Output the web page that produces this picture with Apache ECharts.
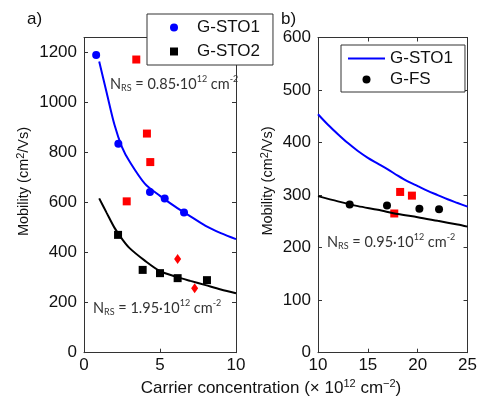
<!DOCTYPE html>
<html>
<head>
<meta charset="utf-8">
<script src="https://cdn.jsdelivr.net/npm/echarts@6/dist/echarts.min.js"></script>
<style>
  html, body { margin: 0; padding: 0; background: #fff; }
  #main { width: 480px; height: 401px; }
</style>
</head>
<body>
<div id="main"></div>
<script>
// ---- panel a) ----
const sto1Points = [[0.8, 1190], [2.26, 835], [4.34, 642], [5.31, 616], [6.58, 560]];
const sto2Points = [[2.24, 471], [3.86, 331], [5.0, 318], [6.16, 298], [8.09, 290]];
const redSquaresA = [[3.44, 1172], [4.14, 876], [4.36, 762], [2.81, 605]];
const redDiamondsA = [[6.16, 375], [7.28, 258]];
const sto1FitA = [[1.0, 1164], [1.5, 1037], [2.0, 912], [2.5, 822], [3.0, 764], [4.0, 676],
  [5.0, 627], [6.0, 584], [7.0, 545], [8.0, 507], [9.0, 478], [10, 454]];
const sto2FitA = [[1.0, 617], [1.5, 558], [2.0, 500], [2.5, 455], [3.0, 418], [4.0, 368],
  [5.0, 326], [6.0, 305], [7.0, 287], [8.0, 270], [9.0, 253], [10, 238]];

// ---- panel b) ----
const fsPoints = [[13.18, 282], [16.92, 280], [20.17, 274], [22.14, 273]];
const redSquaresB = [[18.24, 306], [19.42, 299], [17.65, 265]];
const sto1FitB = [[10, 454], [11, 434], [12, 416], [13, 399], [14, 384], [15, 371], [16, 360],
  [17, 349], [18, 337], [19, 326], [20, 317], [21, 308], [22, 300], [23, 292], [24, 285], [25, 278]];
const fsFitB = [[10, 298], [12, 288], [14, 279], [16, 272], [18, 264], [20, 258], [22, 251], [24, 244], [25, 240]];

const FONT = "'Liberation Sans', Arial, sans-serif";
const NOTE_FONT = "Lato, 'Open Sans', sans-serif";
const axisColor = '#333';

function makeX(grid, min, max, pos) {
  return {
    type: 'value', gridIndex: grid, min: min, max: max, interval: 5, position: pos,
    axisLine: { show: true, onZero: false, lineStyle: { color: axisColor, width: 1 } },
    axisTick: { show: true, inside: true, length: 4, lineStyle: { color: axisColor } },
    axisLabel: { show: pos === 'bottom', margin: 4, fontSize: 17, color: '#111', fontFamily: FONT,
      formatter: v => String(v) },
    splitLine: { show: false }
  };
}
function makeY(grid, max, interval, pos) {
  return {
    type: 'value', gridIndex: grid, min: 0, max: max, interval: interval, position: pos,
    axisLine: { show: true, onZero: false, lineStyle: { color: axisColor, width: 1 } },
    axisTick: { show: true, inside: true, length: 4, lineStyle: { color: axisColor } },
    axisLabel: { show: pos === 'left', margin: 7, fontSize: 17, color: '#111', fontFamily: FONT,
      showMaxLabel: max % interval === 0, formatter: v => String(v) },
    splitLine: { show: false }
  };
}

const sup = { fontSize: 11, verticalAlign: 'top', lineHeight: 11, fontFamily: FONT, fill: '#111' };
const noteRich = {
  n: { fontSize: 14.5, fontFamily: NOTE_FONT, fill: '#333', lineHeight: 18 },
  sub: { fontSize: 9, fontFamily: NOTE_FONT, fill: '#333', verticalAlign: 'bottom', lineHeight: 9 },
  sup: { fontSize: 9, fontFamily: NOTE_FONT, fill: '#333', verticalAlign: 'top', lineHeight: 9 }
};
function note(x, y, val) {
  return {
    type: 'text', x: x, y: y, z: 10,
    style: {
      text: '{n|N}{sub|RS}{n| = ' + val + '·10}{sup|12}{n| cm}{sup|-2}',
      rich: noteRich, align: 'left', verticalAlign: 'middle'
    }
  };
}
function ylabel(x, y) {
  return {
    type: 'text', x: x, y: y, rotation: Math.PI / 2,
    style: {
      text: '{t|Mobility (cm}{s|2}{t|/Vs)}', align: 'center', verticalAlign: 'middle',
      rich: { t: { fontSize: 14.5, fontFamily: FONT, fill: '#111', lineHeight: 17 }, s: sup }
    }
  };
}

const square = 'path://M0,0L1,0L1,1L0,1Z';

const chart = echarts.init(document.getElementById('main'));
chart.setOption({
  animation: false,
  backgroundColor: '#fff',
  grid: [
    { left: 84, top: 37.5, width: 152, height: 315.2 },
    { left: 318, top: 37.5, width: 152, height: 315.2 }
  ],
  xAxis: [makeX(0, 0, 10, 'bottom'), makeX(0, 0, 10, 'top'), makeX(1, 10, 25, 'bottom'), makeX(1, 10, 25, 'top')],
  yAxis: [makeY(0, 1260, 200, 'left'), makeY(0, 1260, 200, 'right'), makeY(1, 600, 100, 'left'), makeY(1, 600, 100, 'right')],
  legend: [
    {
      left: 147, top: 14, orient: 'vertical',
      padding: [5, 13, 5, 23], itemWidth: 36, itemHeight: 8, itemGap: 7,
      backgroundColor: '#fff', borderColor: '#333', borderWidth: 1, borderRadius: 0,
      textStyle: { fontSize: 17, fontFamily: FONT, color: '#111' },
      data: [{ name: 'G-STO1', icon: 'circle' }, { name: 'G-STO2', icon: square }]
    },
    {
      left: 341, top: 45, orient: 'vertical',
      padding: [5, 12, 4, 7], itemWidth: 37, itemHeight: 8, itemGap: 4,
      backgroundColor: '#fff', borderColor: '#333', borderWidth: 1, borderRadius: 0,
      textStyle: { fontSize: 17, fontFamily: FONT, color: '#111' },
      data: [{ name: 'G-STO1', icon: 'path://M0,0L37,0L37,2L0,2Z' }, { name: 'G-FS', icon: 'circle' }]
    }
  ],
  series: [
    { name: 'G-STO1', type: 'scatter', xAxisIndex: 0, yAxisIndex: 0, data: sto1Points,
      symbol: 'circle', symbolSize: 8, itemStyle: { color: '#0000ff', opacity: 1 }, z: 4 },
    { name: 'G-STO2', type: 'scatter', xAxisIndex: 0, yAxisIndex: 0, data: sto2Points,
      symbol: 'rect', symbolSize: 8, itemStyle: { color: '#000', opacity: 1 }, z: 4 },
    { type: 'line', xAxisIndex: 0, yAxisIndex: 0, data: sto1FitA, smooth: 0.3, symbol: 'none',
      lineStyle: { color: '#0000ff', width: 2 } },
    { type: 'line', xAxisIndex: 0, yAxisIndex: 0, data: sto2FitA, smooth: 0.3, symbol: 'none',
      lineStyle: { color: '#000', width: 2 } },
    { type: 'scatter', xAxisIndex: 0, yAxisIndex: 0, data: redSquaresA,
      symbol: 'rect', symbolSize: 8, itemStyle: { color: '#ff0000', opacity: 1 } },
    { type: 'scatter', xAxisIndex: 0, yAxisIndex: 0, data: redDiamondsA,
      symbol: 'diamond', symbolSize: [7, 10], itemStyle: { color: '#ff0000', opacity: 1 } },

    { name: 'G-STO1', type: 'line', xAxisIndex: 2, yAxisIndex: 2, data: sto1FitB, smooth: 0.3, symbol: 'none',
      lineStyle: { color: '#0000ff', width: 2 } },
    { type: 'line', xAxisIndex: 2, yAxisIndex: 2, data: fsFitB, smooth: 0.3, symbol: 'none',
      lineStyle: { color: '#000', width: 2 } },
    { name: 'G-FS', type: 'scatter', xAxisIndex: 2, yAxisIndex: 2, data: fsPoints,
      symbol: 'circle', symbolSize: 8, itemStyle: { color: '#000', opacity: 1 }, z: 4 },
    { type: 'scatter', xAxisIndex: 2, yAxisIndex: 2, data: redSquaresB,
      symbol: 'rect', symbolSize: 8, itemStyle: { color: '#ff0000', opacity: 1 } }
  ],
  graphic: [
    { type: 'text', x: 27, y: 19, style: { text: 'a)', fontSize: 17, fontFamily: FONT, fill: '#111', verticalAlign: 'middle' } },
    { type: 'text', x: 281, y: 19, style: { text: 'b)', fontSize: 17, fontFamily: FONT, fill: '#111', verticalAlign: 'middle' } },
    ylabel(23.5, 181.5),
    ylabel(268, 181),
    {
      type: 'text', x: 271, y: 388,
      style: {
        text: '{t|Carrier concentration (× 10}{s|12}{t| cm}{s|−2}{t|)}', align: 'center', verticalAlign: 'middle',
        rich: { t: { fontSize: 17, fontFamily: FONT, fill: '#111', lineHeight: 20 }, s: sup }
      }
    },
    note(110, 84, '0.85'),
    note(93, 308, '1.95'),
    note(327, 242, '0.95')
  ]
});
</script>
</body>
</html>
